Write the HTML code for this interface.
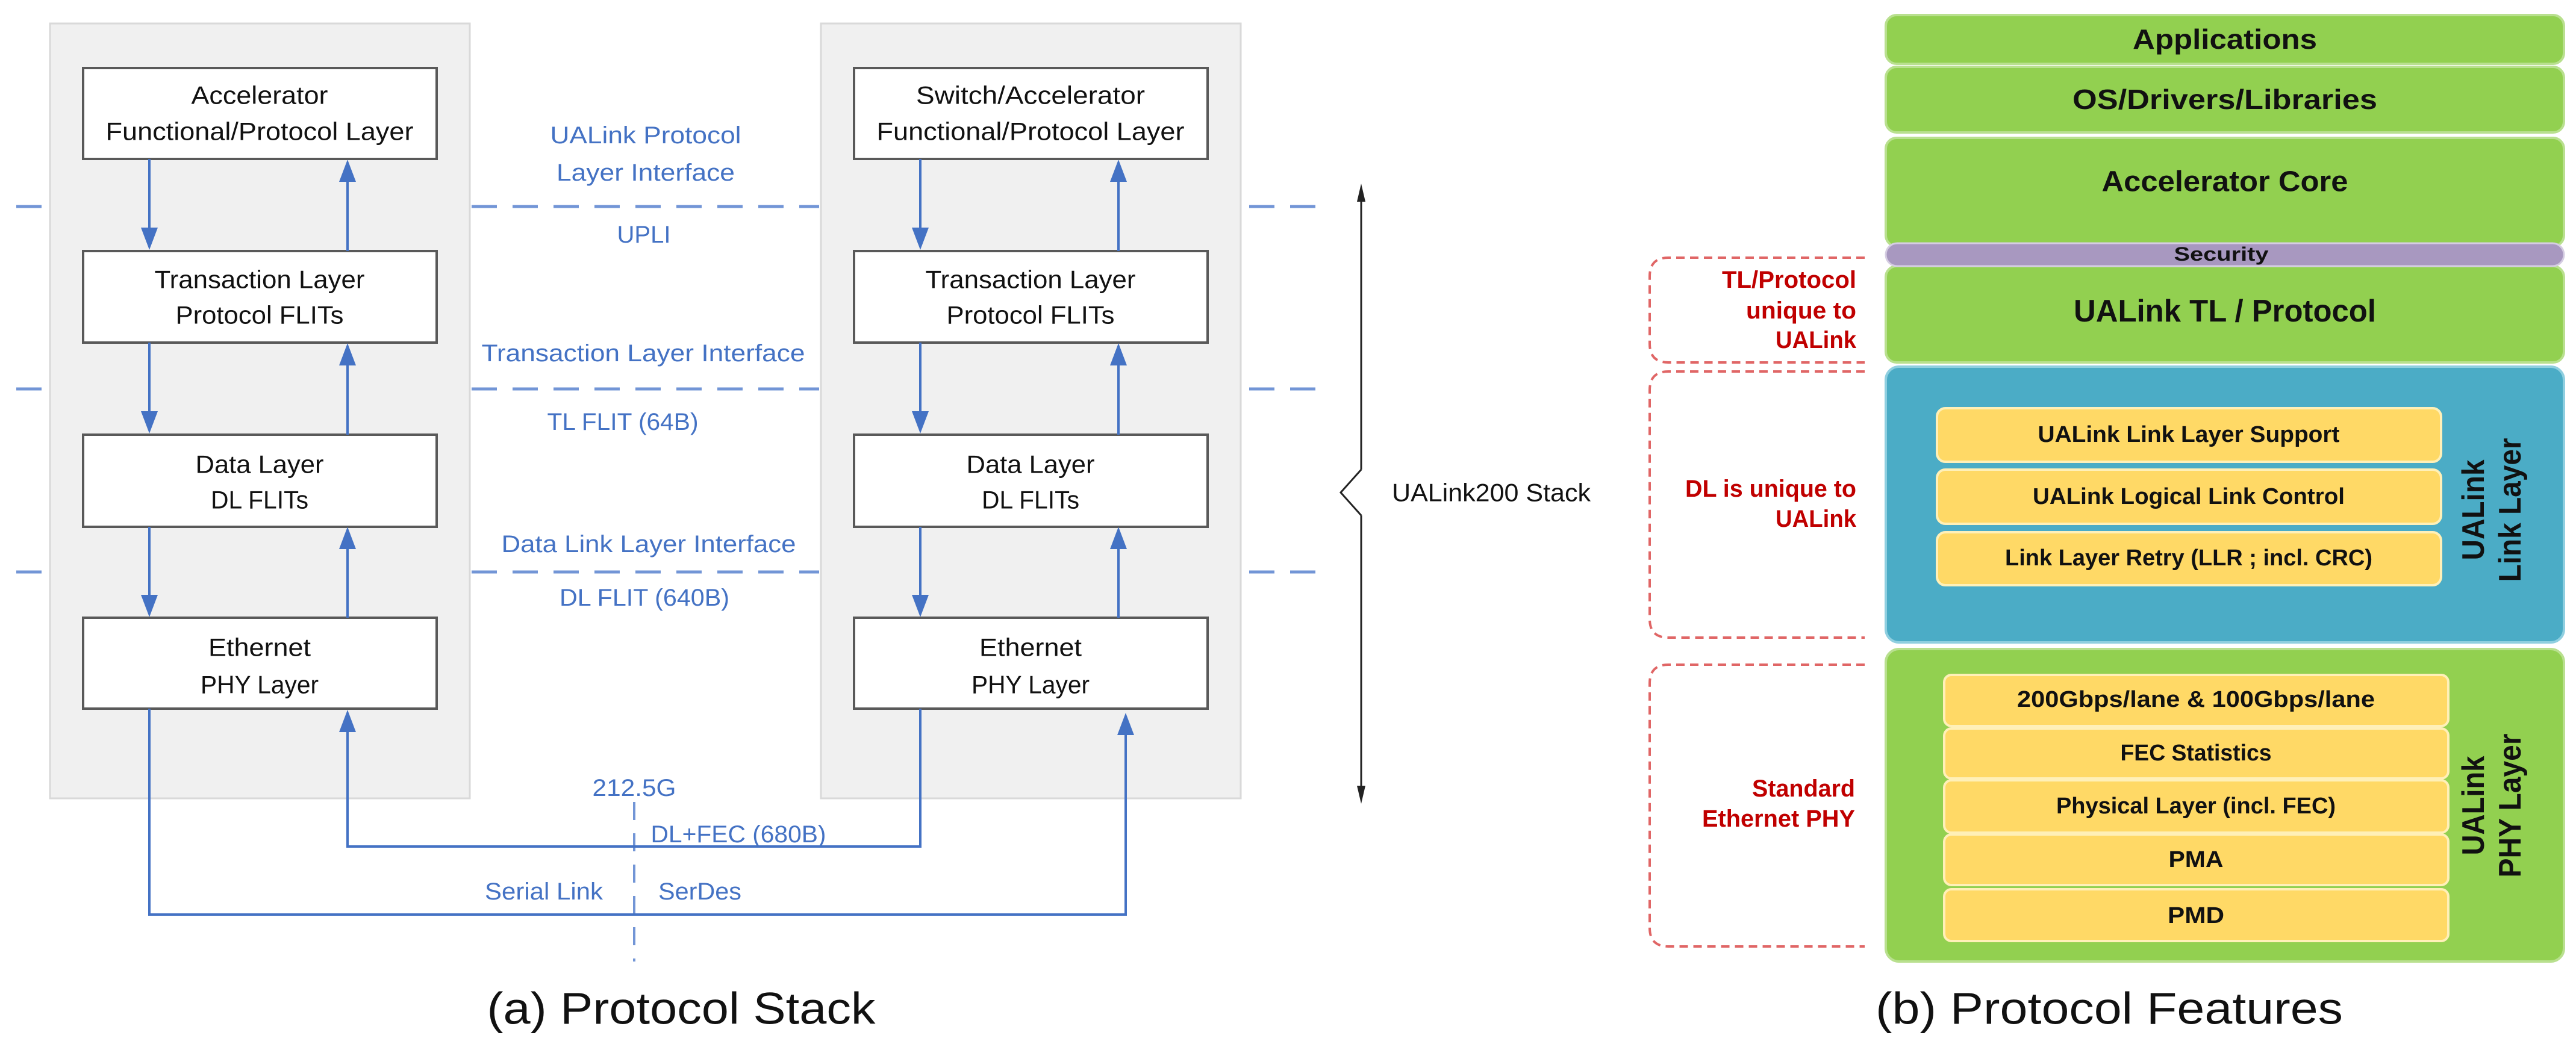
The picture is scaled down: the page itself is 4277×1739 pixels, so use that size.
<!DOCTYPE html>
<html><head><meta charset="utf-8"><style>
html,body{margin:0;padding:0;background:#fff;}
svg{display:block;}
text{font-family:"Liberation Sans",sans-serif;}
</style></head><body>
<svg width="4277" height="1739" viewBox="0 0 4277 1739" xmlns="http://www.w3.org/2000/svg">
<defs>
<marker id="ah" markerWidth="10" markerHeight="10" refX="9" refY="5" orient="auto" markerUnits="userSpaceOnUse" viewBox="0 0 10 10"><path d="M0,0 L10,5 L0,10 z" fill="#4472c4"/></marker>
</defs>
<!-- gray panels -->
<rect x="83" y="39" width="697" height="1287" fill="#f0f0f0" stroke="#d9d9d9" stroke-width="3"/>
<rect x="1363" y="39" width="697" height="1287" fill="#f0f0f0" stroke="#d9d9d9" stroke-width="3"/>
<!-- dashed interface lines -->
<g stroke="#7295d6" stroke-width="5" stroke-dasharray="42,26" fill="none">
<line x1="27" y1="343" x2="83" y2="343"/><line x1="783" y1="343" x2="1360" y2="343"/><line x1="2074" y1="343" x2="2190" y2="343"/>
<line x1="27" y1="646" x2="83" y2="646"/><line x1="783" y1="646" x2="1360" y2="646"/><line x1="2074" y1="646" x2="2190" y2="646"/>
<line x1="27" y1="950" x2="83" y2="950"/><line x1="783" y1="950" x2="1360" y2="950"/><line x1="2074" y1="950" x2="2190" y2="950"/>
<line x1="1053" y1="1332" x2="1053" y2="1597" stroke-dasharray="30,22" stroke-width="4"/>
</g>
<!-- boxes -->
<g fill="#fff" stroke="#595959" stroke-width="4">
<rect x="138" y="113" width="587" height="151"/><rect x="138" y="417" width="587" height="152"/>
<rect x="138" y="722" width="587" height="153"/><rect x="138" y="1026" width="587" height="151"/>
<rect x="1418" y="113" width="587" height="151"/><rect x="1418" y="417" width="587" height="152"/>
<rect x="1418" y="722" width="587" height="153"/><rect x="1418" y="1026" width="587" height="151"/>
</g>
<!-- arrows -->
<g stroke="#4472c4" stroke-width="4" fill="none">
<line x1="248" y1="264" x2="248" y2="380"/><line x1="248" y1="569" x2="248" y2="685"/><line x1="248" y1="875" x2="248" y2="990"/>
<line x1="577" y1="417" x2="577" y2="300"/><line x1="577" y1="722" x2="577" y2="605"/><line x1="577" y1="1026" x2="577" y2="910"/>
<line x1="1528" y1="264" x2="1528" y2="380"/><line x1="1528" y1="569" x2="1528" y2="685"/><line x1="1528" y1="875" x2="1528" y2="990"/>
<line x1="1857" y1="417" x2="1857" y2="300"/><line x1="1857" y1="722" x2="1857" y2="605"/><line x1="1857" y1="1026" x2="1857" y2="910"/>
<polyline points="1528,1177 1528,1406 577,1406 577,1215"/>
<polyline points="248,1177 248,1519 1869,1519 1869,1220"/>
</g>
<g fill="#4472c4">
<path d="M234,378 L262,378 L248,415 z"/><path d="M234,683 L262,683 L248,720 z"/><path d="M234,988 L262,988 L248,1025 z"/>
<path d="M563,302 L591,302 L577,265 z"/><path d="M563,607 L591,607 L577,570 z"/><path d="M563,912 L591,912 L577,875 z"/><path d="M563,1216 L591,1216 L577,1179 z"/>
<path d="M1514,378 L1542,378 L1528,415 z"/><path d="M1514,683 L1542,683 L1528,720 z"/><path d="M1514,988 L1542,988 L1528,1025 z"/>
<path d="M1843,302 L1871,302 L1857,265 z"/><path d="M1843,607 L1871,607 L1857,570 z"/><path d="M1843,912 L1871,912 L1857,875 z"/><path d="M1855,1221 L1883,1221 L1869,1184 z"/>
</g>
<!-- stack arrow & brace -->
<g stroke="#222" stroke-width="3" fill="none">
<line x1="2260" y1="320" x2="2260" y2="780"/><polyline points="2260,780 2226,818 2260,856"/><line x1="2260" y1="856" x2="2260" y2="1320"/>
</g>
<path d="M2253,335 L2267,335 L2260,305 z" fill="#222"/><path d="M2253,1305 L2267,1305 L2260,1335 z" fill="#222"/>
<!-- box texts -->
<g font-size="42" fill="#111" text-anchor="middle" dominant-baseline="central" lengthAdjust="spacingAndGlyphs">
<text x="431" y="158" textLength="227" lengthAdjust="spacingAndGlyphs">Accelerator</text>
<text x="431" y="218" textLength="511" lengthAdjust="spacingAndGlyphs">Functional/Protocol Layer</text>
<text x="431" y="464" textLength="349" lengthAdjust="spacingAndGlyphs">Transaction Layer</text>
<text x="431" y="523" textLength="279" lengthAdjust="spacingAndGlyphs">Protocol FLITs</text>
<text x="431" y="771" textLength="213" lengthAdjust="spacingAndGlyphs">Data Layer</text>
<text x="431" y="830" textLength="162" lengthAdjust="spacingAndGlyphs">DL FLITs</text>
<text x="431" y="1075" textLength="170" lengthAdjust="spacingAndGlyphs">Ethernet</text>
<text x="431" y="1137" textLength="196" lengthAdjust="spacingAndGlyphs">PHY Layer</text>
<text x="1711" y="158" textLength="380" lengthAdjust="spacingAndGlyphs">Switch/Accelerator</text>
<text x="1711" y="218" textLength="511" lengthAdjust="spacingAndGlyphs">Functional/Protocol Layer</text>
<text x="1711" y="464" textLength="349" lengthAdjust="spacingAndGlyphs">Transaction Layer</text>
<text x="1711" y="523" textLength="279" lengthAdjust="spacingAndGlyphs">Protocol FLITs</text>
<text x="1711" y="771" textLength="213" lengthAdjust="spacingAndGlyphs">Data Layer</text>
<text x="1711" y="830" textLength="162" lengthAdjust="spacingAndGlyphs">DL FLITs</text>
<text x="1711" y="1075" textLength="170" lengthAdjust="spacingAndGlyphs">Ethernet</text>
<text x="1711" y="1137" textLength="196" lengthAdjust="spacingAndGlyphs">PHY Layer</text>
<text x="2476" y="818" textLength="330" lengthAdjust="spacingAndGlyphs">UALink200 Stack</text>
</g>
<g font-size="40" fill="#4472c4" text-anchor="middle" dominant-baseline="central">
<text x="1072" y="225" textLength="317" lengthAdjust="spacingAndGlyphs">UALink Protocol</text>
<text x="1072" y="287" textLength="296" lengthAdjust="spacingAndGlyphs">Layer Interface</text>
<text x="1069" y="390" textLength="89" lengthAdjust="spacingAndGlyphs">UPLI</text>
<text x="1068" y="587" textLength="537" lengthAdjust="spacingAndGlyphs">Transaction Layer Interface</text>
<text x="1034" y="701" textLength="251" lengthAdjust="spacingAndGlyphs">TL FLIT (64B)</text>
<text x="1077" y="904" textLength="489" lengthAdjust="spacingAndGlyphs">Data Link Layer Interface</text>
<text x="1070" y="993" textLength="282" lengthAdjust="spacingAndGlyphs">DL FLIT (640B)</text>
<text x="1053" y="1309" textLength="139" lengthAdjust="spacingAndGlyphs">212.5G</text>
<text x="1226" y="1386" textLength="291" lengthAdjust="spacingAndGlyphs">DL+FEC (680B)</text>
<text x="903" y="1481" textLength="196" lengthAdjust="spacingAndGlyphs">Serial Link</text>
<text x="1162" y="1481" textLength="138" lengthAdjust="spacingAndGlyphs">SerDes</text>
</g>
<text x="1131" y="1675" font-size="74" fill="#111" text-anchor="middle" dominant-baseline="central" textLength="645" lengthAdjust="spacingAndGlyphs">(a) Protocol Stack</text>

<!-- right panel -->
<g stroke="#b9e08f" stroke-width="4">
<rect x="3131" y="25" width="1126" height="81" rx="18" fill="#92d050"/>
<rect x="3131" y="111" width="1126" height="109" rx="18" fill="#92d050"/>
<rect x="3131" y="229" width="1126" height="180" rx="18" fill="#92d050"/>
<rect x="3131" y="442" width="1126" height="160" rx="18" fill="#92d050"/>
<rect x="3131" y="1078" width="1126" height="519" rx="22" fill="#92d050"/>
</g>
<rect x="3131" y="404" width="1126" height="38" rx="19" fill="#a898c0" stroke="#d5cde2" stroke-width="3"/>
<rect x="3131" y="609" width="1126" height="458" rx="22" fill="#4bacc6" stroke="#8fcfe0" stroke-width="4"/>
<g fill="#ffd966" stroke="#fff0b8" stroke-width="4">
<rect x="3216" y="678" width="837" height="89" rx="14"/>
<rect x="3216" y="780" width="837" height="90" rx="14"/>
<rect x="3216" y="884" width="837" height="88" rx="14"/>
<rect x="3228" y="1121" width="837" height="85" rx="12"/>
<rect x="3228" y="1210" width="837" height="83" rx="12"/>
<rect x="3228" y="1296" width="837" height="87" rx="12"/>
<rect x="3228" y="1386" width="837" height="84" rx="12"/>
<rect x="3228" y="1477" width="837" height="86" rx="12"/>
</g>
<g font-weight="bold" fill="#111" text-anchor="middle" dominant-baseline="central">
<text x="3694" y="65" font-size="46" textLength="306" lengthAdjust="spacingAndGlyphs">Applications</text>
<text x="3694" y="165" font-size="46" textLength="506" lengthAdjust="spacingAndGlyphs">OS/Drivers/Libraries</text>
<text x="3694" y="302" font-size="48" textLength="409" lengthAdjust="spacingAndGlyphs">Accelerator Core</text>
<text x="3688" y="422" font-size="32" textLength="157" lengthAdjust="spacingAndGlyphs">Security</text>
<text x="3694" y="517" font-size="52" textLength="502" lengthAdjust="spacingAndGlyphs">UALink TL / Protocol</text>
<text x="3634" y="722" font-size="38" textLength="501" lengthAdjust="spacingAndGlyphs">UALink Link Layer Support</text>
<text x="3634" y="825" font-size="38" textLength="518" lengthAdjust="spacingAndGlyphs">UALink Logical Link Control</text>
<text x="3634" y="927" font-size="38" textLength="610" lengthAdjust="spacingAndGlyphs">Link Layer Retry (LLR ; incl. CRC)</text>
<text x="3646" y="1162" font-size="38" textLength="594" lengthAdjust="spacingAndGlyphs">200Gbps/lane &amp; 100Gbps/lane</text>
<text x="3646" y="1251" font-size="38" textLength="251" lengthAdjust="spacingAndGlyphs">FEC Statistics</text>
<text x="3646" y="1339" font-size="38" textLength="464" lengthAdjust="spacingAndGlyphs">Physical Layer (incl. FEC)</text>
<text x="3646" y="1428" font-size="38" textLength="91" lengthAdjust="spacingAndGlyphs">PMA</text>
<text x="3646" y="1521" font-size="38" textLength="94" lengthAdjust="spacingAndGlyphs">PMD</text>
<text transform="translate(4107,847) rotate(-90)" font-size="52" textLength="167" lengthAdjust="spacingAndGlyphs">UALink</text>
<text transform="translate(4168,847) rotate(-90)" font-size="52" textLength="239" lengthAdjust="spacingAndGlyphs">Link Layer</text>
<text transform="translate(4107,1338) rotate(-90)" font-size="52" textLength="165" lengthAdjust="spacingAndGlyphs">UALink</text>
<text transform="translate(4168,1338) rotate(-90)" font-size="52" textLength="239" lengthAdjust="spacingAndGlyphs">PHY Layer</text>
</g>
<!-- red dashed boxes -->
<g stroke="#e06666" stroke-width="4" stroke-dasharray="14,9" fill="none">
<path d="M3096,428 L2770,428 Q2739,428 2739,459 L2739,571 Q2739,602 2770,602 L3096,602"/>
<path d="M3096,617 L2770,617 Q2739,617 2739,648 L2739,1028 Q2739,1059 2770,1059 L3096,1059"/>
<path d="M3096,1104 L2770,1104 Q2739,1104 2739,1135 L2739,1541 Q2739,1572 2770,1572 L3096,1572"/>
</g>
<g font-weight="bold" fill="#c00000" text-anchor="end" dominant-baseline="central" font-size="40">
<text x="3082" y="465" textLength="223" lengthAdjust="spacingAndGlyphs">TL/Protocol</text>
<text x="3082" y="516" textLength="183" lengthAdjust="spacingAndGlyphs">unique to</text>
<text x="3082" y="565" textLength="134" lengthAdjust="spacingAndGlyphs">UALink</text>
<text x="3082" y="812" textLength="284" lengthAdjust="spacingAndGlyphs">DL is unique to</text>
<text x="3082" y="862" textLength="134" lengthAdjust="spacingAndGlyphs">UALink</text>
<text x="3080" y="1310" textLength="171" lengthAdjust="spacingAndGlyphs">Standard</text>
<text x="3080" y="1360" textLength="254" lengthAdjust="spacingAndGlyphs">Ethernet PHY</text>
</g>
<text x="3502" y="1675" font-size="74" fill="#111" text-anchor="middle" dominant-baseline="central" textLength="776" lengthAdjust="spacingAndGlyphs">(b) Protocol Features</text>
</svg>
</body></html>
